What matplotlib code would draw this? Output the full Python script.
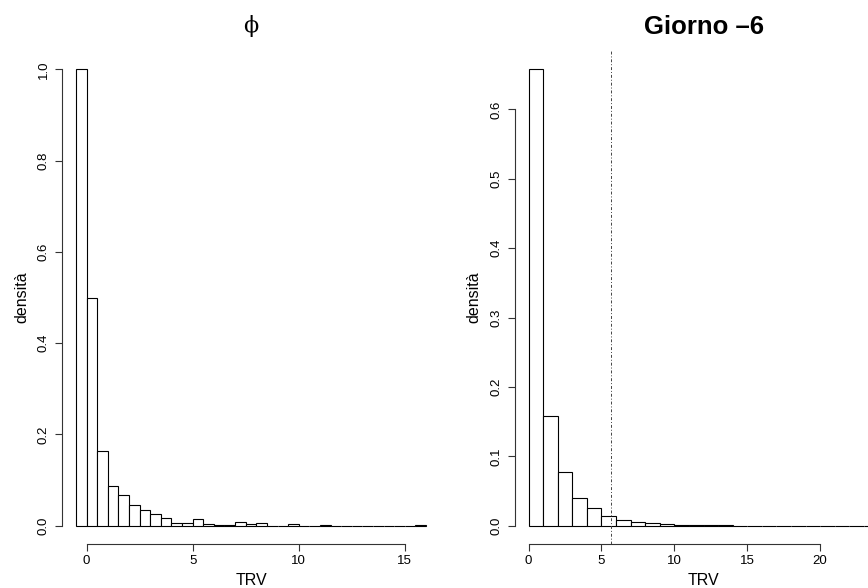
import matplotlib
matplotlib.use("Agg")
import matplotlib.pyplot as plt
import numpy as np

plt.rcParams['font.family'] = ['Liberation Sans', 'DejaVu Sans']

# simulated TRV for phi: bins of width 0.5 from -0.5 to 16
phi_edges = np.arange(-0.5, 16.01, 0.5)
phi_dens = [1.0, 0.5, 0.164, 0.086, 0.068, 0.046, 0.034, 0.026, 0.018,
            0.0066, 0.0066, 0.015, 0.004, 0.002, 0.002, 0.008, 0.004, 0.006,
            0.0, 0.0, 0.004, 0.0, 0.0, 0.0015, 0.0, 0.0, 0.0, 0.0,
            0.0, 0.0, 0.0, 0.0, 0.0015]

# TRV on day -6: bins of width 1 from 0 to 24
day_edges = np.arange(0, 24.01, 1.0)
day_dens = [0.658, 0.158, 0.078, 0.0405, 0.026, 0.0145, 0.0087, 0.005,
            0.0034, 0.002, 0.0012, 0.001, 0.0005, 0.0005, 0.0, 0.0, 0.0,
            0.0, 0.0, 0.0, 0.0, 0.0, 0.0, 0.0]
day_cut = 5.68

phi_xticks = [0, 5, 10, 15]
phi_yticks = [0.0, 0.2, 0.4, 0.6, 0.8, 1.0]
day_xticks = [0, 5, 10, 15, 20]
day_yticks = [0.0, 0.1, 0.2, 0.3, 0.4, 0.5, 0.6]


def r_hist(ax, edges, dens, xticks, yticks, yfmt):
    edges = np.asarray(edges)
    ax.bar(edges[:-1], dens, width=np.diff(edges), align='edge',
           facecolor='white', edgecolor='black', linewidth=0.8)
    # R-style limits: range extended by 4% on each side
    xr = edges[-1] - edges[0]
    ax.set_xlim(edges[0] - 0.04 * xr, edges[-1] + 0.04 * xr)
    ymax = max(dens)
    ax.set_ylim(-0.04 * ymax, 1.04 * ymax)
    for s in ['top', 'right']:
        ax.spines[s].set_visible(False)
    ax.spines['left'].set_bounds(yticks[0], yticks[-1])
    ax.spines['bottom'].set_bounds(xticks[0], xticks[-1])
    for s in ['left', 'bottom']:
        ax.spines[s].set_linewidth(0.8)
        ax.spines[s].set_color('#333333')
    ax.set_xticks(xticks)
    ax.set_xticklabels([str(t) for t in xticks])
    ax.set_yticks(yticks)
    ax.set_yticklabels([yfmt % t for t in yticks], rotation=90, va='center')
    ax.tick_params(axis='both', length=5, width=0.8, color='#333333',
                   labelsize=9.5)
    ax.tick_params(axis='x', pad=3)
    ax.tick_params(axis='y', pad=4)
    ax.set_xlabel('TRV', fontsize=11.5, labelpad=4)
    ax.set_ylabel('densità', fontsize=11.5, labelpad=6)


fig = plt.figure(figsize=(8.68, 5.88), dpi=100)
ax1 = fig.add_axes([62 / 868, 1 - 544 / 588, 378 / 868, 493 / 588])
ax2 = fig.add_axes([514.5 / 868, 1 - 544 / 588, 378 / 868, 493 / 588])

r_hist(ax1, phi_edges, phi_dens, phi_xticks, phi_yticks, '%.1f')
ax1.set_title('ϕ', fontsize=16, family='DejaVu Serif', pad=14)

r_hist(ax2, day_edges, day_dens, day_xticks, day_yticks, '%.1f')
ax2.axvline(day_cut, color='#444444', linewidth=0.7,
            linestyle=(0, (3, 2, 1, 2)))
ax2.set_title('Giorno \u20136', fontsize=18.5, fontweight='bold', pad=12)

fig.savefig('out.png', dpi=100)
